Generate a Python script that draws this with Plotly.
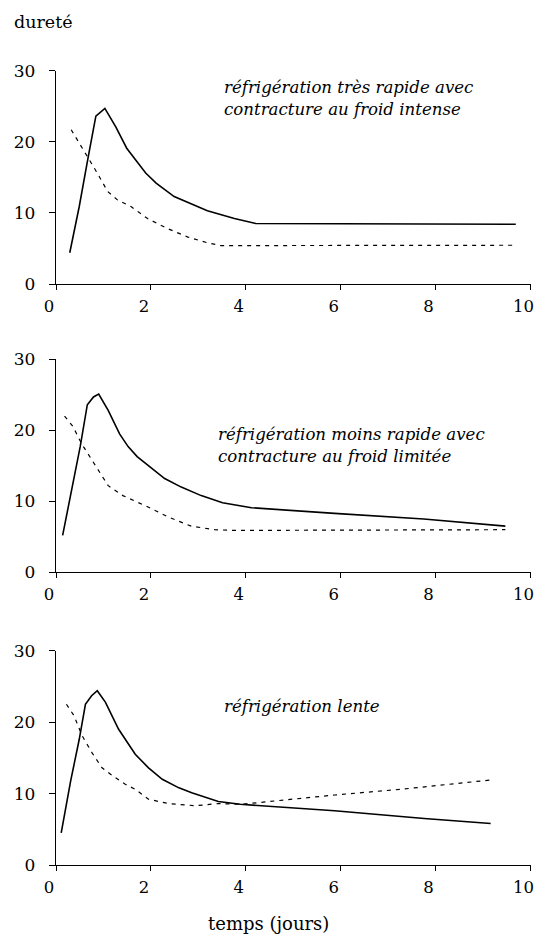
import plotly.graph_objects as go

# Panel 1: réfrigération très rapide
p1_solid_x = [0.29, 0.49, 0.68, 0.84, 1.03, 1.26, 1.49, 1.69, 1.89, 2.11, 2.49, 3.19, 3.76, 4.21, 9.69]
p1_solid_y = [4.4, 10.9, 17.9, 23.6, 24.7, 22.1, 19.1, 17.4, 15.6, 14.2, 12.3, 10.3, 9.2, 8.5, 8.4]
p1_dash_x = [0.32, 0.67, 0.87, 1.09, 1.30, 1.58, 1.93, 2.35, 2.78, 3.19, 3.47, 9.69]
p1_dash_y = [21.7, 17.9, 15.6, 13.0, 11.8, 10.9, 9.2, 7.8, 6.6, 5.8, 5.4, 5.45]

# Panel 2: réfrigération moins rapide
p2_solid_x = [0.14, 0.33, 0.51, 0.66, 0.79, 0.90, 1.10, 1.34, 1.52, 1.71, 1.94, 2.29, 2.64, 3.06, 3.51, 4.12, 5.87, 7.75, 9.47]
p2_solid_y = [5.2, 11.5, 17.7, 23.6, 24.7, 25.1, 22.8, 19.5, 17.7, 16.3, 15.1, 13.2, 12.0, 10.8, 9.8, 9.1, 8.3, 7.5, 6.5]
p2_dash_x = [0.18, 0.36, 0.54, 0.71, 0.89, 1.10, 1.41, 1.94, 2.36, 2.85, 3.34, 3.77, 9.47]
p2_dash_y = [22.0, 20.5, 18.1, 16.3, 14.4, 12.2, 10.8, 9.2, 7.8, 6.5, 6.0, 5.9, 6.0]

# Panel 3: réfrigération lente
p3_solid_x = [0.11, 0.31, 0.49, 0.62, 0.75, 0.87, 1.04, 1.32, 1.67, 1.95, 2.24, 2.59, 2.86, 3.42, 3.88, 5.87, 7.76, 9.16]
p3_solid_y = [4.5, 11.8, 17.6, 22.5, 23.7, 24.4, 22.8, 19.0, 15.5, 13.6, 12.0, 10.8, 10.1, 8.9, 8.5, 7.6, 6.5, 5.8]
p3_dash_x = [0.22, 0.38, 0.55, 0.76, 0.97, 1.19, 1.46, 1.67, 1.95, 2.37, 2.94, 3.42, 3.91, 5.87, 7.27, 9.16]
p3_dash_y = [22.5, 20.9, 18.1, 15.7, 13.6, 12.5, 11.3, 10.6, 9.2, 8.6, 8.3, 8.6, 8.5, 9.8, 10.6, 11.9]

x_ticks = [0, 2, 4, 6, 8, 10]
y_ticks = [0, 10, 20, 30]

labels = [
    "réfrigération très rapide avec<br>contracture au froid intense",
    "réfrigération moins rapide avec<br>contracture au froid limitée",
    "réfrigération lente",
]
y_label = "dureté"
x_label = "temps (jours)"

FONT = "DejaVu Serif"
W, H = 535, 936

# label anchor positions in pixels (left x, centre y)
label_px = [(222, 98.5), (216, 445.5), (222, 706)]

fig = go.Figure()
panels = [
    (p1_solid_x, p1_solid_y, p1_dash_x, p1_dash_y),
    (p2_solid_x, p2_solid_y, p2_dash_x, p2_dash_y),
    (p3_solid_x, p3_solid_y, p3_dash_x, p3_dash_y),
]
# pixel positions of plot areas (top, bottom)
pix = [(70.7, 284), (359.3, 572.3), (650.7, 865)]
xdom = [56 / W, 530.5 / W]

layout = dict(
    width=W, height=H,
    margin=dict(l=0, r=0, t=0, b=0, autoexpand=False),
    paper_bgcolor="white", plot_bgcolor="white",
    showlegend=False,
    font=dict(family=FONT, size=16, color="black"),
)

annotations = []
for i, (sx, sy, dx, dy) in enumerate(panels):
    n = "" if i == 0 else str(i + 1)
    xa, ya = "x" + n, "y" + n
    fig.add_trace(go.Scatter(x=sx, y=sy, mode="lines", xaxis=xa, yaxis=ya,
                             line=dict(color="black", width=1.6)))
    fig.add_trace(go.Scatter(x=dx, y=dy, mode="lines", xaxis=xa, yaxis=ya,
                             line=dict(color="black", width=1.2, dash="4px,5px")))
    top, bot = pix[i]
    layout["xaxis" + n] = dict(
        domain=xdom, range=[0, 10], anchor=ya, tickvals=x_ticks,
        showgrid=False, zeroline=False, showline=True, linecolor="black", linewidth=1.3,
        ticks="outside", ticklen=5, tickwidth=1.2, tickcolor="black", automargin=False,
        ticklabelstandoff=2, ticklabelshift=-7, ticklabeloverflow="allow",
        tickfont=dict(family=FONT, size=16.5, color="black"),
    )
    layout["yaxis" + n] = dict(
        domain=[1 - bot / H, 1 - top / H], range=[0, 30], anchor=xa, tickvals=y_ticks,
        showgrid=False, zeroline=False, showline=True, linecolor="black", linewidth=1.3,
        ticks="outside", ticklen=6, tickwidth=1.2, tickcolor="black", automargin=False,
        ticklabelstandoff=10,
        tickfont=dict(family=FONT, size=17, color="black"),
    )
    lx, ly = label_px[i]
    annotations.append(dict(
        x=lx / W, y=1 - ly / H, xref="paper", yref="paper", text="<i>" + labels[i] + "</i>",
        showarrow=False, xanchor="left", yanchor="middle", align="left",
        font=dict(family=FONT, size=16.6, color="black"),
    ))

annotations.append(dict(x=12 / W, y=1 - 22 / H, xref="paper", yref="paper", text=y_label,
                        showarrow=False, xanchor="left", yanchor="middle",
                        font=dict(family=FONT, size=17.5, color="black")))
annotations.append(dict(x=268 / W, y=1 - 923 / H, xref="paper", yref="paper", text=x_label,
                        showarrow=False, xanchor="center", yanchor="middle",
                        font=dict(family=FONT, size=18, color="black")))
layout["annotations"] = annotations

fig.update_layout(**layout)
fig.write_html("out.html")
